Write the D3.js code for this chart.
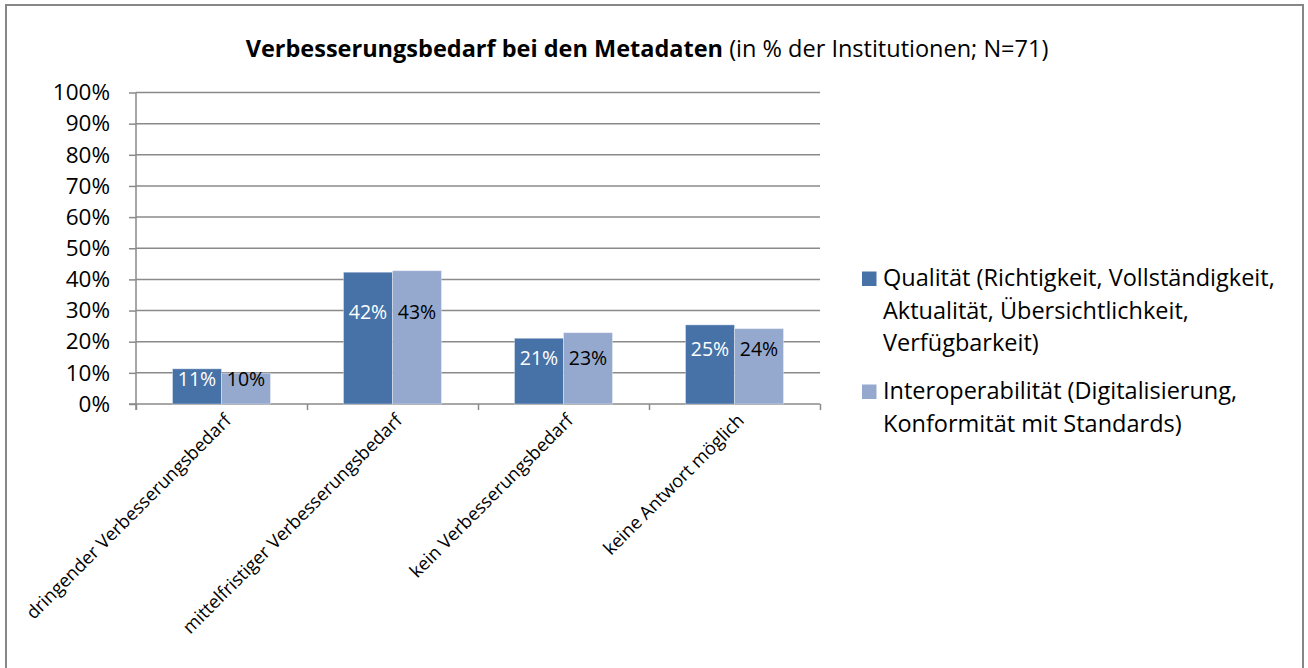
<!DOCTYPE html>
<html><head><meta charset="utf-8">
<script src="https://cdn.jsdelivr.net/npm/d3@7"></script>
<style>
html,body{margin:0;padding:0;background:#fff;}
svg text{font-family:"Open Sans",sans-serif;}
</style></head>
<body><svg id="chart" width="1308" height="668"></svg>
<script>
const categories = ["dringender Verbesserungsbedarf","mittelfristiger Verbesserungsbedarf","kein Verbesserungsbedarf","keine Antwort möglich"];
const seriesNames = ["Qualität","Interoperabilität"];
const qualitaet = [11.3, 42.3, 21.1, 25.4];
const interop = [9.9, 42.8, 22.9, 24.2];
const labelsQ = ["11%","42%","21%","25%"];
const labelsI = ["10%","43%","23%","24%"];
const yTicks = [0,10,20,30,40,50,60,70,80,90,100];
const legendLines = [
  ["Qualität (Richtigkeit, Vollständigkeit,","Aktualität, Übersichtlichkeit,","Verfügbarkeit)"],
  ["Interoperabilität (Digitalisierung,","Konformität mit Standards)"]
];
const colors = ["#4672a8","#95a9cf"];
const labelColors = ["#ffffff","#000000"];

const svg = d3.select("#chart");
// frame
svg.append("rect").attr("x",6).attr("y",5).attr("width",1297).attr("height",700)
  .attr("fill","#fff").attr("stroke","#878787").attr("stroke-width",2);

// title
const title = svg.append("text").attr("x",647).attr("y",57).attr("text-anchor","middle")
  .style("font-size","23.5px").attr("fill","#000");
title.append("tspan").attr("font-weight","bold").text("Verbesserungsbedarf bei den Metadaten");
title.append("tspan").text(" (in % der Institutionen; N=71)");

const x0 = d3.scaleBand().domain(categories).range([136,820]).paddingInner(0).paddingOuter(0);
const y = d3.scaleLinear().domain([0,100]).range([404,92.5]);
const barW = x0.bandwidth()*0.2865;

// gridlines
svg.append("g").selectAll("line").data(yTicks.slice(1)).join("line")
  .attr("x1",136).attr("x2",820).attr("y1",d=>y(d)).attr("y2",d=>y(d))
  .attr("stroke","#8a8a8a").attr("stroke-width",1.5);

// y axis
const yAxis = d3.axisLeft(y).tickValues(yTicks).tickFormat(d=>d+"%").tickSize(7).tickPadding(19);
const gy = svg.append("g").attr("transform","translate(136,0)").call(yAxis);
gy.select(".domain").attr("stroke","#8a8a8a").attr("stroke-width",1.5).attr("d","M0,92.5V410");
gy.selectAll(".tick line").attr("stroke","#8a8a8a").attr("stroke-width",1.5);
gy.selectAll(".tick text").style("font-size","22.5px").attr("fill","#000").attr("font-family","Open Sans");

// x axis
const xAxis = d3.axisBottom(d3.scaleLinear().domain([0,4]).range([136,820])).tickValues([0,1,2,3,4]).tickSize(6).tickFormat("");
const gx = svg.append("g").attr("transform","translate(0,404)").call(xAxis);
gx.select(".domain").attr("stroke","#8a8a8a").attr("stroke-width",1.5).attr("d","M129,0H820");
gx.selectAll(".tick line").attr("stroke","#8a8a8a").attr("stroke-width",1.5);

// bars
const series = [qualitaet, interop];
const labels = [labelsQ, labelsI];
series.forEach((vals,s)=>{
  const g = svg.append("g");
  g.selectAll("rect").data(vals).join("rect")
    .attr("x",(d,i)=>x0(categories[i])+x0.bandwidth()/2 - barW + s*barW)
    .attr("y",d=>y(d)).attr("width",barW).attr("height",d=>404-y(d))
    .attr("fill",colors[s]).attr("stroke","rgba(255,255,255,0.35)").attr("stroke-width",1);
  g.selectAll("text").data(vals).join("text")
    .attr("x",(d,i)=>x0(categories[i])+x0.bandwidth()/2 - barW/2 + s*barW)
    .attr("y",(d,i)=>404 - (404-y(qualitaet[i]))*0.7)
    .attr("dy","0.36em").attr("text-anchor","middle")
    .style("font-size","19.5px").attr("fill",labelColors[s])
    .text((d,i)=>labels[s][i]);
});

// category labels
svg.append("g").selectAll("text").data(categories).join("text")
  .attr("transform",d=>`translate(${x0(d)+x0.bandwidth()/2+3},${414}) rotate(-45)`)
  .attr("text-anchor","end").attr("dy","0.6em")
  .style("font-size","18.2px").attr("fill","#000").text(d=>d);

// legend
let ly = 286;
legendLines.forEach((lines,s)=>{
  svg.append("rect").attr("x",862).attr("y",ly-14.5).attr("width",14.5).attr("height",14.5).attr("fill",colors[s]);
  lines.forEach((t,k)=>{
    svg.append("text").attr("x",883).attr("y",ly+k*32.7).style("font-size","23.5px").attr("fill","#000").text(t);
  });
  ly += 113;
});
</script></body></html>
